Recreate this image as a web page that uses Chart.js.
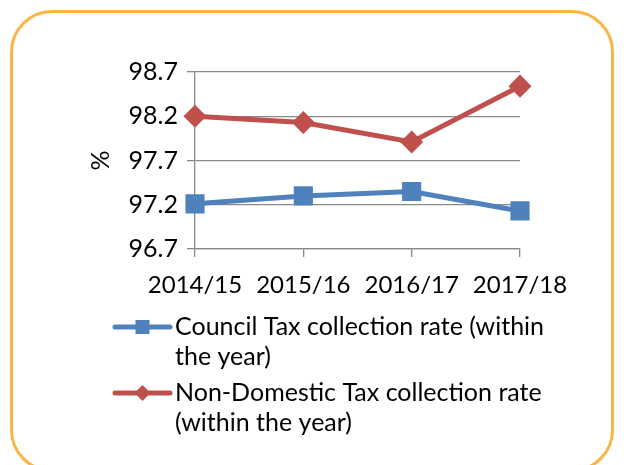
<!DOCTYPE html>
<html>
<head>
<meta charset="utf-8">
<script src="https://cdn.jsdelivr.net/npm/chart.js@4.4.1/dist/chart.umd.min.js"></script>
<style>
  html, body { margin: 0; padding: 0; background: #fff; }
  #wrap { position: relative; width: 624px; height: 465px; overflow: hidden; }
  #frame {
    position: absolute; left: 10px; top: 10px; width: 604px; height: 462px;
    box-sizing: border-box; border: 3.5px solid #f9b548; border-radius: 42px;
  }
  canvas { position: absolute; left: 0; top: 0; }
</style>
</head>
<body>
<div id="wrap">
  <div id="frame"></div>
  <canvas id="chart" width="624" height="465"></canvas>
</div>
<script>
const years = ["2014/15", "2015/16", "2016/17", "2017/18"];
const councilTax = [97.21, 97.30, 97.35, 97.13];
const nonDomestic = [98.20, 98.13, 97.91, 98.54];
const seriesNames = [
  ["Council Tax collection rate (within", "the year)"],
  ["Non-Domestic Tax collection rate", "(within the year)"],
];
const yTicks = [96.7, 97.2, 97.7, 98.2, 98.7];

const blue = "#4f81bd";
const red = "#c0504d";
const grid = "#8a8a8a";
const font = { family: "Lato, 'Open Sans', sans-serif", size: 25 };
const xFont = { family: font.family, size: 24 };

// stacked legend under the chart, text wrapped onto two lines per series
const wrappedLegend = {
  id: "wrappedLegend",
  afterDraw(chart) {
    const ctx = chart.ctx;
    const left = 115, textX = 175, lineH = 30;
    let y = 327;
    ctx.save();
    ctx.font = `${font.size}px ${font.family}`;
    ctx.textBaseline = "middle";
    chart.data.datasets.forEach((ds, i) => {
      ctx.strokeStyle = ds.borderColor;
      ctx.fillStyle = ds.borderColor;
      ctx.lineWidth = 5;
      ctx.lineCap = "round";
      ctx.beginPath();
      ctx.moveTo(left, y);
      ctx.lineTo(left + 55, y);
      ctx.stroke();
      const cx = left + 27.5;
      if (ds.pointStyle === "rect") {
        ctx.fillRect(cx - 7, y - 7, 14, 14);
      } else {
        ctx.beginPath();
        ctx.moveTo(cx, y - 8); ctx.lineTo(cx + 8, y); ctx.lineTo(cx, y + 8); ctx.lineTo(cx - 8, y);
        ctx.closePath();
        ctx.fill();
      }
      ctx.fillStyle = "#000";
      seriesNames[i].forEach((line, k) => ctx.fillText(line, textX, y + k * lineH));
      y += 2 * lineH + 6;
    });
    ctx.restore();
  },
};

Chart.defaults.font.family = font.family;
Chart.defaults.color = "#000";

new Chart(document.getElementById("chart"), {
  type: "line",
  data: {
    labels: years,
    datasets: [
      {
        label: seriesNames[0].join(" "),
        data: councilTax,
        borderColor: blue,
        backgroundColor: blue,
        borderWidth: 5,
        pointStyle: "rect",
        pointRadius: 10,
        pointHoverRadius: 10,
        tension: 0,
      },
      {
        label: seriesNames[1].join(" "),
        data: nonDomestic,
        borderColor: red,
        backgroundColor: red,
        borderWidth: 5,
        pointStyle: "rectRot",
        pointRadius: 8,
        pointHoverRadius: 8,
        tension: 0,
      },
    ],
  },
  plugins: [wrappedLegend],
  options: {
    responsive: false,
    animation: false,
    layout: { padding: { left: 86, right: 104, top: 72, bottom: 159 } },
    plugins: {
      tooltip: { enabled: false },
      legend: { display: false },
    },
    scales: {
      x: {
        offset: false,
        grid: { drawOnChartArea: false, drawTicks: true, tickLength: 8, color: grid, lineWidth: 1.3 },
        border: { color: grid, width: 1.3 },
        ticks: { font: xFont, color: "#000", padding: 14, maxRotation: 0 },
        afterFit: (s) => { s.height = 57; },
      },
      y: {
        min: 96.7,
        max: 98.7,
        afterBuildTicks: (s) => { s.ticks = yTicks.map((v) => ({ value: v })); },
        grid: { color: grid, lineWidth: 1.3, tickLength: 8 },
        border: { color: grid, width: 1.3 },
        ticks: { font: font, color: "#000", padding: 9, callback: (v) => v.toFixed(1) },
        title: { display: true, text: "%", font: font, color: "#000", padding: { top: 0, bottom: 0 } },
        afterFit: (s) => { s.width = 109; },
      },
    },
  },
});
</script>
</body>
</html>
